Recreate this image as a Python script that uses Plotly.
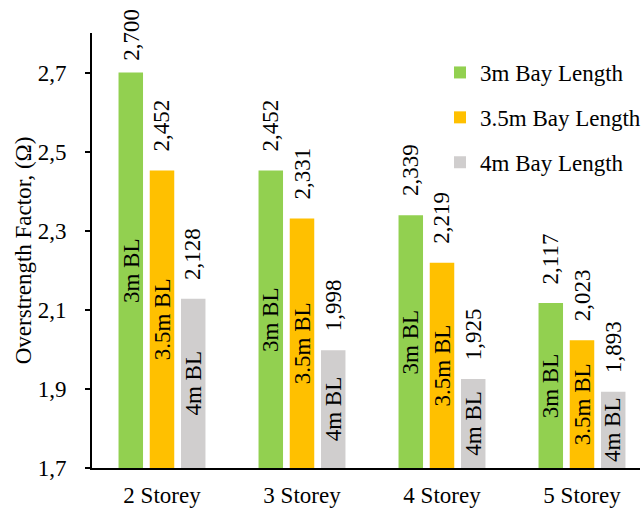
import plotly.graph_objects as go

categories = ["2 Storey", "3 Storey", "4 Storey", "5 Storey"]
series_names = ["3m Bay Length", "3.5m Bay Length", "4m Bay Length"]
inside_labels = ["3m BL", "3.5m BL", "4m BL"]
values_3m = [2.700, 2.452, 2.339, 2.117]
values_35m = [2.452, 2.331, 2.219, 2.023]
values_4m = [2.128, 1.998, 1.925, 1.893]
y_ticks = [1.7, 1.9, 2.1, 2.3, 2.5, 2.7]

series_values = [values_3m, values_35m, values_4m]
colors = ["#92D050", "#FFC000", "#D0CECE"]

FONT = "Liberation Serif, Times New Roman, serif"
FS = 23
W, H = 644, 511
ML, MR, MT, MB = 92, 4, 33, 43
Y0, Y1 = 1.7, 2.8
BARGAP = 0.331
plot_w = W - ML - MR
plot_h = H - MT - MB
cat_px = 140
x_range = [-0.5, -0.5 + plot_w / cat_px]

fig = go.Figure()
for i, (name, vals, col) in enumerate(zip(series_names, series_values, colors)):
    fig.add_trace(go.Bar(
        x=categories, y=vals, name=name, marker_color=col,
        marker_line_width=0, legendgroup=f"g{i}",
    ))

slot = (1 - BARGAP) / 3
annotations = []
for i, vals in enumerate(series_values):
    off = (i - 1) * slot
    for j, v in enumerate(vals):
        xpos = j + off
        # value label above the bar
        px_top = MT + (Y1 - v) / (Y1 - Y0) * plot_h
        shift = min(17, px_top - 8 - 55)
        annotations.append(dict(
            x=xpos, y=v, xref="x", yref="y",
            text=f"{v:.3f}".replace(".", ","),
            textangle=-90, showarrow=False,
            xanchor="center", yanchor="bottom", yshift=shift,
            font=dict(family=FONT, size=FS, color="black"),
        ))
        # label inside the bar
        annotations.append(dict(
            x=xpos, y=(Y0 + v) / 2, xref="x", yref="y",
            text=inside_labels[i],
            textangle=-90, showarrow=False,
            xanchor="center", yanchor="middle",
            font=dict(family=FONT, size=FS, color="black"),
        ))

fig.update_layout(
    width=W, height=H,
    margin=dict(l=ML, r=MR, t=MT, b=MB, autoexpand=False),
    paper_bgcolor="white", plot_bgcolor="white",
    barmode="group", bargap=BARGAP, bargroupgap=0.215,
    separators=",.",
    font=dict(family=FONT, size=FS, color="black"),
    showlegend=True,
    legend=dict(
        xref="container", yref="container",
        x=440 / W, y=1 - 51 / H, xanchor="left", yanchor="top",
        font=dict(family=FONT, size=FS, color="black"),
        tracegroupgap=12, bgcolor="rgba(0,0,0,0)",
    ),
    annotations=annotations,
    hovermode=False,
)
fig.update_xaxes(
    range=x_range, showline=True, linecolor="black", linewidth=2,
    ticks="", showgrid=False, tickfont=dict(family=FONT, size=FS),
    ticklabelstandoff=5,
)
fig.update_yaxes(
    range=[Y0, Y1], tickvals=y_ticks, tickformat=".1f",
    showline=True, linecolor="black", linewidth=2,
    ticks="outside", ticklen=5, tickcolor="black", tickwidth=1.5,
    showgrid=False, zeroline=False, tickfont=dict(family=FONT, size=FS),
    ticklabelstandoff=14,
    title=dict(text="Overstrength Factor, (Ω)", font=dict(family=FONT, size=FS), standoff=0),
)

fig.write_html("out.html")
